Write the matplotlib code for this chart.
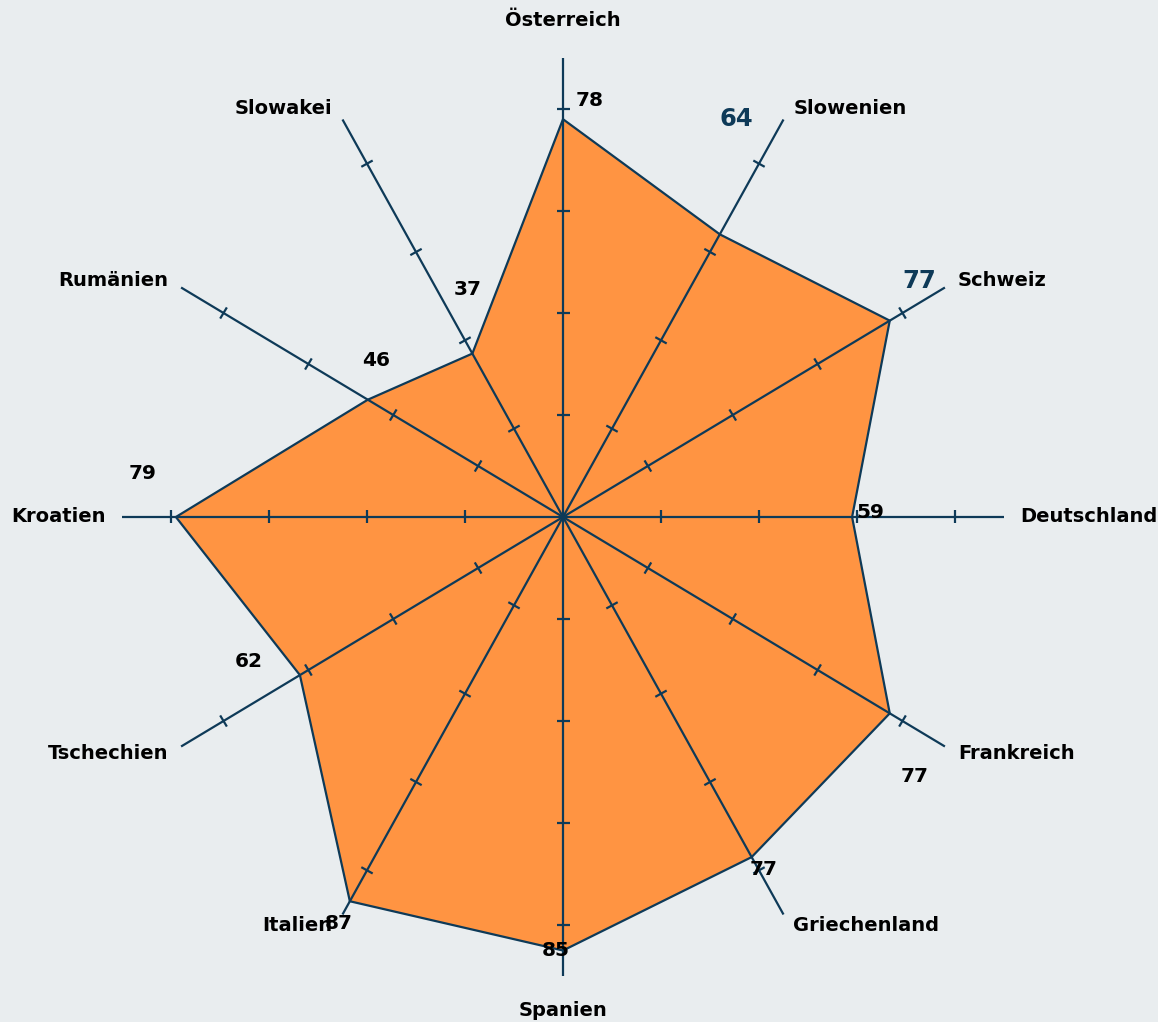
import numpy as np
import matplotlib
matplotlib.use("Agg")
import matplotlib.pyplot as plt

# ---- data ----
categories = ["Österreich", "Slowenien", "Schweiz", "Deutschland", "Frankreich",
              "Griechenland", "Spanien", "Italien", "Tschechien", "Kroatien",
              "Rumänien", "Slowakei"]
values = [78, 64, 77, 59, 77, 77, 85, 87, 62, 79, 46, 37]
tick_values = [20, 40, 60, 80]
axis_max = 90

# ---- style ----
BG = "#E9EDEF"
FILL = "#FF9442"
LINE = "#0E3A58"
VALUE_DARK = "#0E3A58"

# pixel offsets for value labels (dx, dy; dy positive = up)
value_offsets = [(27, 19), (17, 115), (29, 40), (18, 4), (25, -63), (12, -12),
                 (-7, 0), (-11, -22), (-51, 14), (-33, 44), (8, 39), (-5, 64)]
value_big = [False, True, True, False, False, False, False, False, False, False, False, False]

W, H = 1158, 1022
fig = plt.figure(figsize=(W / 100, H / 100), dpi=100, facecolor=BG)
ax = fig.add_axes([0, 0, 1, 1])
ax.set_facecolor(BG)
cx, cy = 563, 517
sx, sy = 4.9, 5.1
ax.set_xlim(-cx / sx, (W - cx) / sx)
ax.set_ylim(-(H - cy) / sy, cy / sy)
ax.axis("off")

n = len(categories)
angles = np.deg2rad(90 - 30 * np.arange(n))
vals = np.array(values, dtype=float)
px = vals * np.cos(angles)
py = vals * np.sin(angles)

ax.fill(px, py, facecolor=FILL, edgecolor=LINE, linewidth=1.6, zorder=2, joinstyle="miter")

# axes spokes and ticks
tick_half_px = 6.5
for a in angles:
    ca, sa = np.cos(a), np.sin(a)
    ax.plot([0, axis_max * ca], [0, axis_max * sa], color=LINE, lw=1.6, zorder=3,
            solid_capstyle="butt")
    dxp, dyp = ca * sx, sa * sy
    L = np.hypot(dxp, dyp)
    ux, uy = -dyp / L, dxp / L  # perpendicular unit vector (pixels)
    for t in tick_values:
        x0, y0 = t * ca, t * sa
        ax.plot([x0 - ux * tick_half_px / sx, x0 + ux * tick_half_px / sx],
                [y0 - uy * tick_half_px / sy, y0 + uy * tick_half_px / sy],
                color=LINE, lw=1.6, zorder=3, solid_capstyle="butt")

# category labels
for cat, a in zip(categories, angles):
    ca, sa = np.cos(a), np.sin(a)
    ex, ey = axis_max * ca, axis_max * sa
    if abs(ca) < 1e-6:
        off = (0, 37 if sa > 0 else -35)
        ha = "center"
    elif abs(sa) < 1e-6:
        off = (16 if ca > 0 else -16, 0)
        ha = "left" if ca > 0 else "right"
    else:
        if abs(sa) > 0.8:
            off = (10 * np.sign(ca), 11 * np.sign(sa))
        else:
            off = (13 * np.sign(ca), 7 * np.sign(sa))
        ha = "left" if ca > 0 else "right"
    ax.annotate(cat, (ex, ey), xytext=off, textcoords="offset pixels",
                ha=ha, va="center", fontsize=14, fontweight="bold",
                color="black", family="DejaVu Sans", zorder=5)

# value labels
for v, x, y, off, big in zip(values, px, py, value_offsets, value_big):
    ax.annotate(str(v), (x, y), xytext=off, textcoords="offset pixels",
                ha="center", va="center",
                fontsize=17.5 if big else 14.5, fontweight="bold",
                color=VALUE_DARK if big else "black", family="DejaVu Sans", zorder=6)

fig.savefig("out.png", dpi=100, facecolor=BG)
